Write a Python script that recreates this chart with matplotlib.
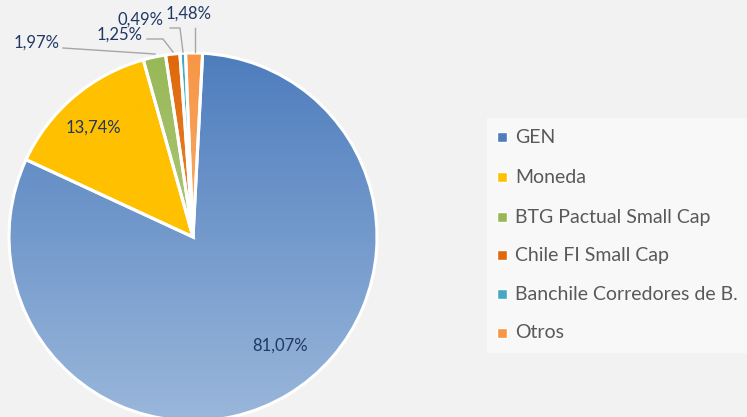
import numpy as np
import matplotlib.pyplot as plt
from matplotlib.colors import LinearSegmentedColormap
from matplotlib.patches import Rectangle

# datos
categorias = ["GEN", "Moneda", "BTG Pactual Small Cap", "Chile FI Small Cap",
              "Banchile Corredores de B.", "Otros"]
valores = [81.07, 13.74, 1.97, 1.25, 0.49, 1.48]
etiquetas = ["81,07%", "13,74%", "1,97%", "1,25%", "0,49%", "1,48%"]
colores_arriba = ["#4e7dbd", "#ffc000", "#98b856", "#e0680a", "#46a8c2", "#f79646"]
colores_abajo = ["#9ab7db", "#ffc000", "#c2d69b", "#f2a15e", "#92cddc", "#fac090"]

plt.rcParams['font.family'] = ['Lato', 'DejaVu Sans']

fig = plt.figure(figsize=(7.47, 4.17), dpi=100, facecolor="#f2f2f2")
ax = fig.add_axes([0, 0, 1, 1])
ax.set_facecolor("#f2f2f2")

H = 417
cx, cy, r = 193, H - 237, 184

wedges, _ = ax.pie(valores, center=(cx, cy), radius=r, startangle=87,
                   counterclock=False, frame=True,
                   wedgeprops=dict(linewidth=2.2, edgecolor="white"))

# degradado vertical en cada porcion
grad = np.linspace(0, 1, 256).reshape(-1, 1)
for w, c1, c2 in zip(wedges, colores_arriba, colores_abajo):
    cmap = LinearSegmentedColormap.from_list("g", [c1, c2])
    w.set_facecolor("none")
    im = ax.imshow(grad, cmap=cmap, extent=(cx - r, cx + r, cy - r, cy + r),
                   origin="upper", aspect="auto", zorder=1)
    im.set_clip_path(w)
    w.set_zorder(2)

ax.set_xlim(0, 747)
ax.set_ylim(0, H)
ax.axis("off")

color_etq = "#1f3864"
# etiquetas de datos (posicion en pixeles)
pos_etq = [(280, 346), (93, 128), (37, 43), (120, 35), (141, 20), (189, 14)]
for (x, y), t in zip(pos_etq, etiquetas):
    ax.text(x, H - y, t, ha="center", va="center", fontsize=12, color=color_etq)

# lineas guia
guias = [[(63, 48), (155, 54)],
         [(147, 39), (163, 39), (173, 52)],
         [(170, 28), (180, 28), (183, 52)],
         [(195, 28), (195, 52)]]
for g in guias:
    xs = [p[0] for p in g]
    ys = [H - p[1] for p in g]
    ax.plot(xs, ys, color="#a6a6a6", lw=1, zorder=3)

# leyenda manual
ax.add_patch(Rectangle((487, H - 353), 262, 235, facecolor="#f8f8f8",
                       edgecolor="none", zorder=0.5))
y_ley = [137, 177, 217, 255, 294, 333]
for cat, c, yp in zip(categorias, colores_arriba, y_ley):
    y = H - yp
    ax.add_patch(Rectangle((497, y - 5), 10, 10, facecolor=c,
                           edgecolor="white", lw=1, zorder=3))
    ax.text(515, y, cat, ha="left", va="center", fontsize=14, color="#595959")

fig.savefig("out.png", dpi=100, facecolor=fig.get_facecolor())
